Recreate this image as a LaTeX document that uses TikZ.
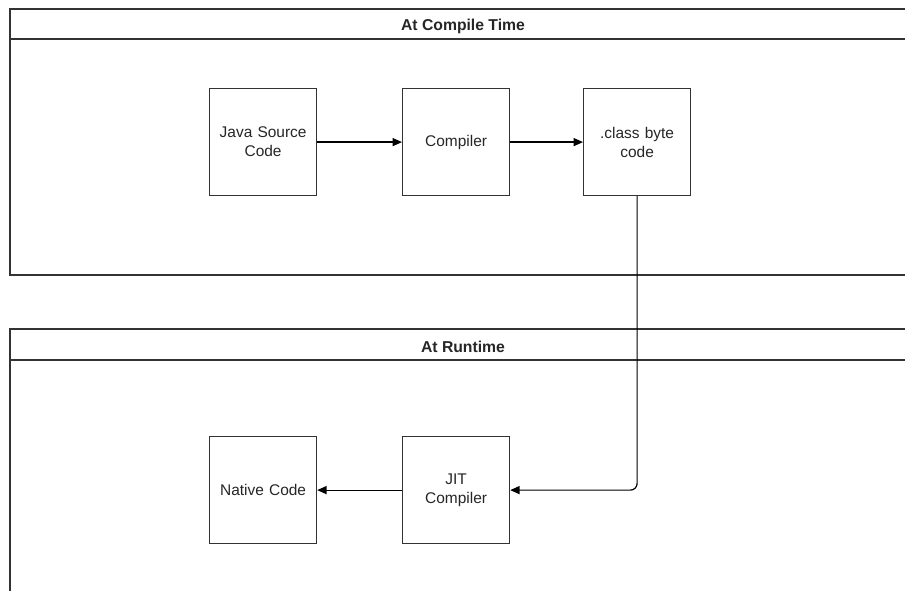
\documentclass[tikz,border=0pt]{standalone}
\usepackage{fontspec}
\setmainfont{Liberation Sans}
\usetikzlibrary{arrows.meta}
\begin{document}
\begin{tikzpicture}[x=0.75pt,y=-0.75pt,
  line width=0.9pt,
  every node/.style={font=\fontsize{11.6}{14.2}\selectfont, text=black!85},
  stepbox/.style={draw=black!80, minimum width=80.25pt, minimum height=80.25pt, inner sep=0pt, align=center, anchor=north west, text width=78pt},
  lane/.style={draw=black!80},
  title/.style={font=\fontsize{11.8}{14.2}\selectfont\bfseries},
  flow/.style={draw=black, -{Triangle[length=7pt,width=6pt]}}]
  \useasboundingbox (0,0) rectangle (905,591);
  \clip (0,0) rectangle (905,591);
  \fill[white] (0,0) rectangle (905,591);

  % compile-time lane
  \draw[lane] (10,9) rectangle (916,275);
  \draw[lane] (10,39) -- (916,39);
  \node[title] (ct) at (463,26) {At Compile Time};

  % runtime lane
  \draw[lane] (10,700) -- (10,329) -- (916,329) -- (916,700);
  \draw[lane] (10,360) -- (916,360);
  \node[title] (rt) at (463,347) {At Runtime};

  % steps
  \node[stepbox] (java) at (209,88) {Java Source\\Code};
  \node[stepbox] (comp) at (402,88) {Compiler};
  \node[stepbox] (cls) at (583,88) {.class byte\\code};
  \node[stepbox] (jit) at (402,436) {JIT\\Compiler};
  \node[stepbox] (nat) at (209,436) {Native Code};

  % connectors
  \draw[flow] (java) -- (comp);
  \draw[flow] (comp) -- (cls);
  \draw[flow, rounded corners=5pt] (cls.south) |- (jit.east);
  \draw[flow] (jit) -- (nat);
\end{tikzpicture}
\end{document}
